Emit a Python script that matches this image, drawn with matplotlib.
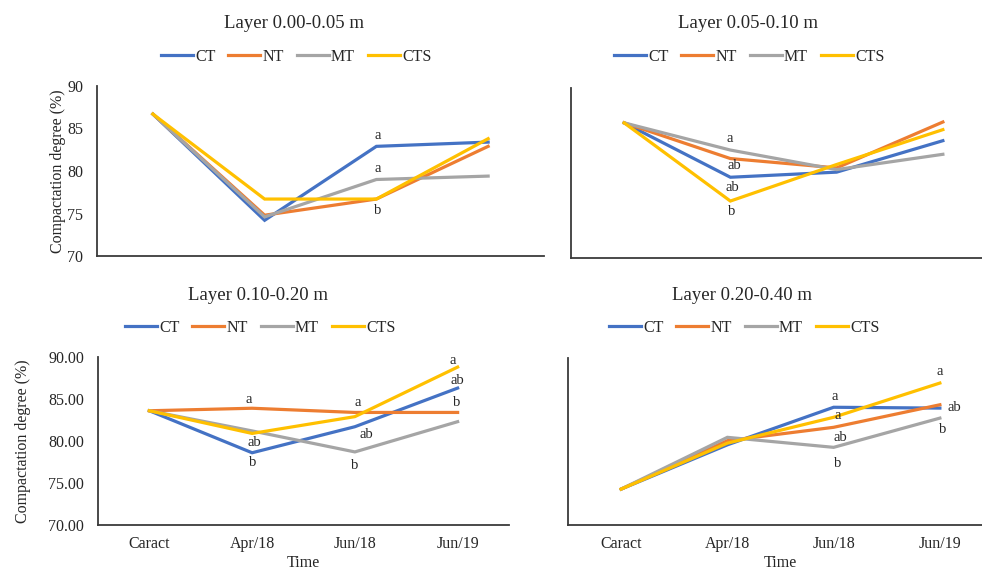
import matplotlib
matplotlib.use('Agg')
import matplotlib.pyplot as plt
from matplotlib.ticker import FormatStrFormatter

plt.rcParams['font.family'] = ['Liberation Serif', 'DejaVu Serif']
plt.rcParams['text.color'] = '#262626'
plt.rcParams['axes.labelcolor'] = '#262626'
plt.rcParams['xtick.color'] = '#262626'
plt.rcParams['ytick.color'] = '#262626'

# Sampling dates and treatments
dates = ['Caract', 'Apr/18', 'Jun/18', 'Jun/19']
treatments = ['CT', 'NT', 'MT', 'CTS']
colors = {'CT': '#4472C4', 'NT': '#ED7D31', 'MT': '#A5A5A5', 'CTS': '#FFC000'}

# Compactation degree (%) per layer
layer1 = {
    'CT':  [86.7, 74.2, 82.9, 83.4],
    'NT':  [86.7, 74.8, 76.7, 82.9],
    'MT':  [86.7, 74.6, 79.0, 79.4],
    'CTS': [86.7, 76.7, 76.7, 83.8],
}
layer2 = {
    'CT':  [85.9, 79.5, 80.1, 83.8],
    'NT':  [85.9, 81.7, 80.6, 86.0],
    'MT':  [85.9, 82.7, 80.4, 82.2],
    'CTS': [85.9, 76.7, 81.0, 85.1],
}
layer3 = {
    'CT':  [83.6, 78.6, 81.7, 86.3],
    'NT':  [83.6, 83.9, 83.4, 83.4],
    'MT':  [83.6, 81.2, 78.7, 82.3],
    'CTS': [83.6, 80.9, 82.9, 88.8],
}
layer4 = {
    'CT':  [74.3, 79.6, 84.1, 84.0],
    'NT':  [74.3, 80.1, 81.7, 84.4],
    'MT':  [74.3, 80.5, 79.3, 82.8],
    'CTS': [74.3, 79.8, 82.9, 87.0],
}

# Tukey letters: (treatment, date index, letter, dx px, dy px)
letters1 = [('CT', 2, 'a', 1, 11), ('MT', 2, 'a', 1, 11), ('NT', 2, 'b', 1, -11)]
letters2 = [('MT', 1, 'a', -1, 12), ('NT', 1, 'ab', 4, -7),
            ('CT', 1, 'ab', 2, -10), ('CTS', 1, 'b', 1, -10)]
letters3 = [('NT', 1, 'a', -3, 9), ('CT', 1, 'ab', 2, 10), ('CT', 1, 'b', 1, -10),
            ('NT', 2, 'a', 3, 10), ('CT', 2, 'ab', 11, -8), ('MT', 2, 'b', 0, -14),
            ('CTS', 3, 'a', -5, 7), ('CT', 3, 'ab', 0, 8), ('NT', 3, 'b', -1, 10)]
letters4 = [('CT', 2, 'a', 1, 11), ('CTS', 2, 'a', 4, 2), ('NT', 2, 'ab', 7, -10),
            ('MT', 2, 'b', 4, -16), ('CTS', 3, 'a', 0, 12), ('CT', 3, 'ab', 14, 1),
            ('MT', 3, 'b', 3, -11)]

titles = ['Layer 0.00-0.05 m', 'Layer 0.05-0.10 m',
          'Layer 0.10-0.20 m', 'Layer 0.20-0.40 m']

W, H = 982, 571
fig = plt.figure(figsize=(W / 100, H / 100), dpi=100)


def px_axes(left, right, top, bottom):
    return fig.add_axes([left / W, 1 - bottom / H, (right - left) / W, (bottom - top) / H])


panels = [
    (px_axes(97, 544, 86, 256), layer1, letters1, (296, 57), (294, 24)),
    (px_axes(571, 996, 88, 258), layer2, letters2, (749, 57), (748, 24)),
    (px_axes(98, 509, 357, 525), layer3, letters3, (260, 328), (258, 295)),
    (px_axes(568, 993, 358, 525), layer4, letters4, (744, 328), (742, 295)),
]
ylabel_x = {0: -0.069, 2: -0.162}

for i, (ax, data, letters, leg_pos, title_pos) in enumerate(panels):
    for t in treatments:
        ax.plot(range(len(dates)), data[t], color=colors[t], lw=2.3,
                solid_joinstyle='miter', label=t)
    for t, k, s, dx, dy in letters:
        ax.annotate(s, (k, data[t][k]), xytext=(dx, dy), textcoords='offset pixels',
                    ha='center', va='center', fontsize=10.5, color='#262626')

    ax.set_xlim(-0.5, 3.5)
    ax.set_ylim(70, 90)
    ax.set_yticks([70, 75, 80, 85, 90])
    ax.set_xticks(range(len(dates)))
    for side in ['top', 'right']:
        ax.spines[side].set_visible(False)
    for side in ['left', 'bottom']:
        ax.spines[side].set_color('#3a3a3a')
        ax.spines[side].set_linewidth(1.3)
    ax.tick_params(length=0, labelsize=11.5)
    ax.tick_params(axis='y', pad=10)
    ax.tick_params(axis='x', pad=8)

    if i < 2:
        ax.set_xticklabels([])
    else:
        ax.set_xticklabels(dates)
        ax.set_xlabel('Time', fontsize=11.5, labelpad=2)
    if i % 2 == 1:
        ax.set_yticklabels([])
    else:
        ax.set_ylabel('Compactation degree (%)', fontsize=11.5)
        ax.yaxis.set_label_coords(ylabel_x[i], 0.5)
    if i == 2:
        ax.yaxis.set_major_formatter(FormatStrFormatter('%.2f'))

    fig.text(title_pos[0] / W, 1 - title_pos[1] / H, titles[i], fontsize=13.5,
             ha='center', va='center')
    handles, labels = ax.get_legend_handles_labels()
    fig.legend(handles, labels, loc='center', ncol=4, frameon=False,
               bbox_to_anchor=(leg_pos[0] / W, 1 - leg_pos[1] / H),
               fontsize=11.5, handlelength=2.0, handletextpad=0.15,
               columnspacing=0.8, borderaxespad=0)

fig.savefig('out.png', dpi=100)
